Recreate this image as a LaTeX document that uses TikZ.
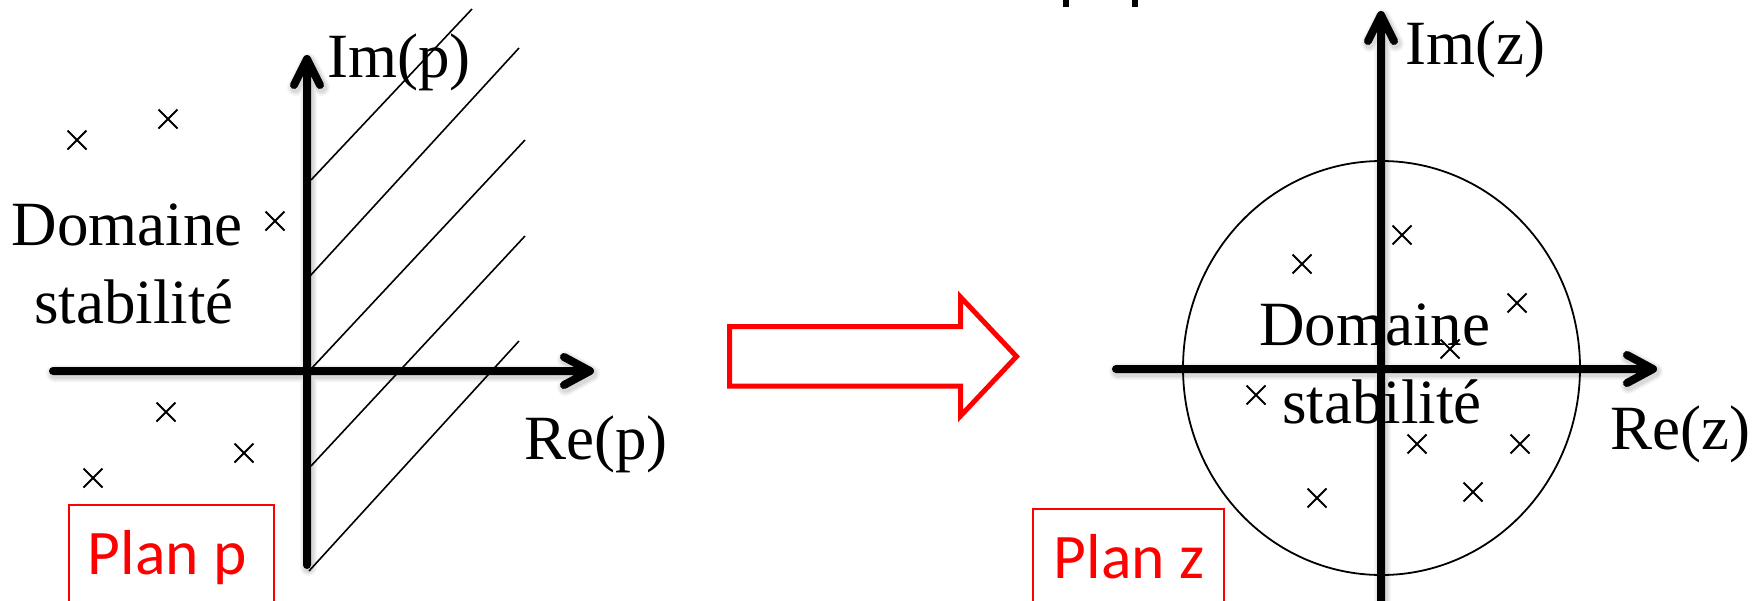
\documentclass[tikz,border=0pt]{standalone}
\usepackage{fontspec}
\setmainfont{Liberation Serif}
\newfontfamily\calib{Carlito}
\usetikzlibrary{shapes.misc}

% both pairs of axes with their open arrow heads
\newcommand\drawaxes[1]{%
  \draw[#1]
    (307,565) -- (307,59) (294,85) -- (307,59) -- (320,85)
    (53,371) -- (590,371) (564,357) -- (590,371) -- (564,385)
    (1381,604) -- (1381,15) (1368,41) -- (1381,15) -- (1394,41)
    (1116,369) -- (1653,369) (1627,355) -- (1653,369) -- (1627,383);}

\begin{document}
\begin{tikzpicture}[x=1pt,y=-1pt,
  axis/.style={line width=8pt, line cap=round, line join=round, black},
  hatch/.style={line width=1.6pt, black},
  pole/.style={cross out, draw, line width=2pt, minimum size=17pt, inner sep=0pt},
  lbl/.style={inner sep=0pt, anchor=base west, font=\fontsize{63}{78}\selectfont},
  planbox/.style={draw=red, line width=1.8pt, anchor=north west, inner sep=0pt},
  plantxt/.style={text=red, inner sep=0pt, anchor=base west,
    font=\calib\fontsize{63.5}{70}\selectfont},
  bigarrow/.style={draw=red, line width=5pt, miter limit=10}]

\useasboundingbox (0,0) rectangle (1763,600);
\clip (0,0) rectangle (1763,600);

% descenders of the title line above
\fill (1063,0) rectangle (1069,6.5);
\fill (1132,0) rectangle (1138,6.5);

% ---------- plan p ----------
\draw[hatch] (311,180) -- (472,9);
\draw[hatch] (310,276) -- (519,48);
\draw[hatch] (311,369) -- (525,140);
\draw[hatch] (311,466) -- (525,236);
\draw[hatch] (309,571) -- (519,341);

\node[lbl] (imp) at (327,77) {Im(p)};
\node[lbl] (rep) at (524,459) {Re(p)};
\node[lbl] (domp) at (11.5,245) {Domaine};
\node[lbl] (stabp) at (34,323) {stabilité};

\node[pole] (p1) at (77,140) {};
\node[pole] (p2) at (168,119) {};
\node[pole] (p3) at (275,221) {};
\node[pole] (p4) at (166,412) {};
\node[pole] (p5) at (244,453) {};
\node[pole] (p6) at (93,478) {};

\node[planbox, minimum width=205pt, minimum height=140pt] (boxp) at (68,504) {};
\node[plantxt] (planp) at (87.5,574) {Plan p};

% ---------- transformation arrow ----------
\draw[bigarrow] (729.5,326.5) -- (960.5,326.5) -- (960.5,297) -- (1016.5,356.5)
  -- (960.5,416) -- (960.5,386) -- (729.5,386) -- cycle;

% ---------- plan z ----------
\draw[line width=1.8pt] (1381.5,368) ellipse [x radius=198.5, y radius=207];

\node[lbl] (imz) at (1405,64) {Im(z)};
\node[lbl] (rez) at (1610,449) {Re(z)};
\node[lbl] (domz) at (1259,345) {Domaine};
\node[lbl] (stabz) at (1282,423) {stabilité};

\node[pole] (z1) at (1402,235) {};
\node[pole] (z2) at (1302,264) {};
\node[pole] (z3) at (1517,303) {};
\node[pole] (z4) at (1450,349) {};
\node[pole] (z5) at (1256,395) {};
\node[pole] (z6) at (1417,444) {};
\node[pole] (z7) at (1520,444) {};
\node[pole] (z8) at (1317,498) {};
\node[pole] (z9) at (1473,492) {};

\node[planbox, minimum width=191pt, minimum height=140pt] (boxz) at (1032,508) {};
\node[plantxt] (planz) at (1053.5,578) {Plan z};

% ---------- axes with a soft drop shadow ----------
\begin{scope}[shift={(1.5,2.5)}]
  \foreach \w/\o in {17/0.04, 14/0.05, 11/0.07} {
    \drawaxes{line width=\w pt, line cap=round, line join=round, black, opacity=\o}
  }
\end{scope}
\drawaxes{axis}

\end{tikzpicture}
\end{document}
